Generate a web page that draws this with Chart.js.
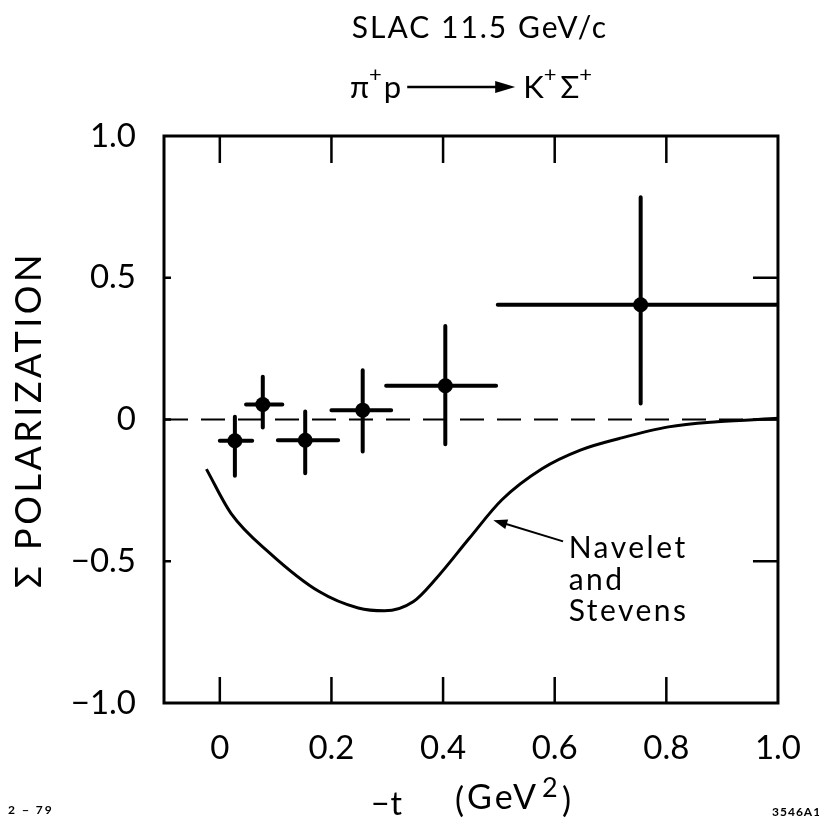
<!DOCTYPE html>
<html>
<head>
<meta charset="utf-8">
<script src="https://cdn.jsdelivr.net/npm/chart.js@4.4.0/dist/chart.umd.min.js"></script>
<style>
  html, body { margin: 0; padding: 0; background: #fff; }
  #wrap { width: 819px; height: 827px; }
</style>
</head>
<body>
<div id="wrap"><canvas id="myChart" width="819" height="827"></canvas></div>
<script>
// data
const tValues  = [0.027, 0.077, 0.153, 0.256, 0.404, 0.754];
const tLow     = [0.000, 0.047, 0.104, 0.200, 0.298, 0.498];
const tHigh    = [0.058, 0.112, 0.212, 0.307, 0.495, 1.000];
const polValues = [-0.075, 0.053, -0.073, 0.033, 0.119, 0.405];
const polLow    = [-0.198, -0.028, -0.190, -0.113, -0.087, 0.056];
const polHigh   = [0.010, 0.151, 0.028, 0.174, 0.330, 0.784];

// Navelet and Stevens prediction
const curveT = [-0.024, 0.02, 0.09, 0.178, 0.248, 0.295, 0.347, 0.388, 0.447, 0.505, 0.578, 0.646, 0.716, 0.804, 0.891, 1.0];
const curveP = [-0.175, -0.331, -0.472, -0.607, -0.665, -0.675, -0.642, -0.56, -0.419, -0.284, -0.173, -0.108, -0.067, -0.026, -0.008, 0.004];

const xTicks = [0, 0.2, 0.4, 0.6, 0.8, 1.0];
const xTickLabels = ['0', '0.2', '0.4', '0.6', '0.8', '1.0'];
const yTicks = [-1, -0.5, 0, 0.5, 1];
const yTickLabels = ['\u22121.0', '\u22120.5', '0', '0.5', '1.0'];

const FONT = "Lato, 'DejaVu Sans', sans-serif";

let hbars = [], vbars = [], points = [];
for (let i = 0; i < tValues.length; i++) {
    hbars.push({x: tLow[i], y: polValues[i]}, {x: tHigh[i], y: polValues[i]}, {x: tHigh[i], y: null});
    vbars.push({x: tValues[i], y: polLow[i]}, {x: tValues[i], y: polHigh[i]}, {x: tValues[i], y: null});
    points.push({x: tValues[i], y: polValues[i]});
}
let curve = curveT.map((t, i) => ({x: t, y: curveP[i]}));

const whiteBg = {
    id: 'whiteBg',
    beforeDraw(chart) {
        const ctx = chart.ctx;
        ctx.save();
        ctx.fillStyle = '#fff';
        ctx.fillRect(0, 0, chart.width, chart.height);
        ctx.restore();
    }
};

const frame = {
    id: 'frame',
    afterDraw(chart) {
        const ctx = chart.ctx;
        const a = chart.chartArea;
        const sx = chart.scales.x, sy = chart.scales.y;
        ctx.save();
        ctx.strokeStyle = '#000';
        ctx.fillStyle = '#000';
        ctx.lineWidth = 3;
        ctx.strokeRect(a.left, a.top, a.right - a.left, a.bottom - a.top);

        // inward ticks
        ctx.lineWidth = 2.5;
        ctx.beginPath();
        xTicks.forEach(v => {
            if (v >= 1) return;
            const px = sx.getPixelForValue(v);
            ctx.moveTo(px, a.top); ctx.lineTo(px, a.top + 27);
            ctx.moveTo(px, a.bottom); ctx.lineTo(px, a.bottom - 26);
        });
        yTicks.forEach(v => {
            if (v <= -1 || v >= 1) return;
            const py = sy.getPixelForValue(v);
            ctx.moveTo(a.left, py); ctx.lineTo(a.left + 7, py);
            ctx.moveTo(a.right, py); ctx.lineTo(a.right - 25, py);
        });
        ctx.stroke();

        // title
        ctx.textBaseline = 'alphabetic';
        ctx.textAlign = 'center';
        ctx.font = '30px ' + FONT;
        ctx.letterSpacing = '2px';
        ctx.fillText('SLAC 11.5 GeV/c', 480, 38);

        // reaction line
        ctx.textAlign = 'left';
        ctx.letterSpacing = '0px';
        const big = '31px ' + FONT, sup = '22px ' + FONT;
        let x = 350;
        const base = 98;
        const put = (txt, font, dy) => {
            ctx.font = font;
            ctx.fillText(txt, x, base + dy);
            x += ctx.measureText(txt).width;
        };
        put('\u03c0', big, 0);
        put('+', sup, -16);
        x += 2;
        put('p', big, 0);
        x += 6;
        const ay = 87;
        ctx.lineWidth = 2.5;
        ctx.beginPath();
        ctx.moveTo(x, ay); ctx.lineTo(x + 92, ay);
        ctx.stroke();
        ctx.beginPath();
        ctx.moveTo(x + 108, ay); ctx.lineTo(x + 88, ay - 6); ctx.lineTo(x + 88, ay + 6);
        ctx.closePath(); ctx.fill();
        x += 116;
        put('K', big, 0);
        put('+', sup, -16);
        x += 4;
        put('\u03a3', big, 0);
        put('+', sup, -16);

        // y axis title
        ctx.save();
        ctx.translate(29, (a.top + a.bottom) / 2);
        ctx.rotate(-Math.PI / 2);
        ctx.textAlign = 'center';
        ctx.textBaseline = 'middle';
        ctx.font = '36px ' + FONT;
        ctx.letterSpacing = '3.5px';
        ctx.fillText('\u03a3 POLARIZATION', 0, 0);
        ctx.restore();

        // x axis title
        ctx.letterSpacing = '1px';
        ctx.font = '32px ' + FONT;
        ctx.fillText('\u2212t', 371, 815);
        ctx.font = '34px ' + FONT;
        ctx.letterSpacing = '0px';
        ctx.fillText('(', 455, 812);
        ctx.letterSpacing = '3px';
        ctx.fillText('GeV', 467, 809);
        ctx.letterSpacing = '0px';
        ctx.font = '27px ' + FONT;
        ctx.fillText('2', 542, 797);
        ctx.font = '34px ' + FONT;
        ctx.fillText(')', 562, 812);

        // corner marks
        ctx.letterSpacing = '2px';
        ctx.font = 'bold 12px ' + FONT;
        ctx.fillText('2 \u2212 79', 8, 814);
        ctx.letterSpacing = '1px';
        ctx.fillText('3546A1', 772, 816);

        // annotation
        ctx.font = '30px ' + FONT;
        ctx.letterSpacing = '2.5px';
        const tx = sx.getPixelForValue(0.625);
        ctx.fillText('Navelet', tx, sy.getPixelForValue(-0.487));
        ctx.fillText('and', tx, sy.getPixelForValue(-0.6));
        ctx.fillText('Stevens', tx, sy.getPixelForValue(-0.712));

        // arrow to the curve
        const x0 = sx.getPixelForValue(0.615), y0 = sy.getPixelForValue(-0.43);
        const x1 = sx.getPixelForValue(0.49), y1 = sy.getPixelForValue(-0.355);
        const ang = Math.atan2(y1 - y0, x1 - x0);
        ctx.lineWidth = 2;
        ctx.beginPath();
        ctx.moveTo(x0, y0); ctx.lineTo(x1 - 10 * Math.cos(ang), y1 - 10 * Math.sin(ang));
        ctx.stroke();
        ctx.beginPath();
        ctx.moveTo(x1, y1);
        ctx.lineTo(x1 - 14 * Math.cos(ang) + 5 * Math.sin(ang), y1 - 14 * Math.sin(ang) - 5 * Math.cos(ang));
        ctx.lineTo(x1 - 14 * Math.cos(ang) - 5 * Math.sin(ang), y1 - 14 * Math.sin(ang) + 5 * Math.cos(ang));
        ctx.closePath(); ctx.fill();
        ctx.restore();
    }
};

const myChart = new Chart(document.getElementById('myChart'), {
    type: 'scatter',
    data: {
        datasets: [
            {
                data: [{x: -0.1, y: 0}, {x: 1.0, y: 0}],
                showLine: true, borderColor: '#000', borderWidth: 2,
                borderDash: [24, 13], pointRadius: 0
            },
            {
                data: curve,
                showLine: true, borderColor: '#000', borderWidth: 3,
                cubicInterpolationMode: 'monotone', pointRadius: 0
            },
            {
                data: hbars,
                showLine: true, spanGaps: false, borderColor: '#000', borderWidth: 4,
                borderCapStyle: 'round', pointRadius: 0
            },
            {
                data: vbars,
                showLine: true, spanGaps: false, borderColor: '#000', borderWidth: 4,
                borderCapStyle: 'round', pointRadius: 0
            },
            {
                data: points,
                pointRadius: 7.5, pointBackgroundColor: '#000', pointBorderWidth: 0
            }
        ]
    },
    options: {
        responsive: false,
        animation: false,
        events: [],
        layout: { padding: { top: 136, right: 27, left: 0, bottom: 0 } },
        plugins: { legend: { display: false }, tooltip: { enabled: false } },
        scales: {
            x: {
                type: 'linear', min: -0.1, max: 1.0,
                afterBuildTicks: s => { s.ticks = xTicks.map(v => ({value: v})); },
                afterFit: s => { s.height = 124; },
                grid: { display: false }, border: { display: false },
                ticks: {
                    autoSkip: false, maxRotation: 0, padding: 18, color: '#000',
                    font: { family: FONT, size: 33 },
                    callback: (v, i) => xTickLabels[i]
                }
            },
            y: {
                type: 'linear', min: -1, max: 1,
                afterBuildTicks: s => { s.ticks = yTicks.map(v => ({value: v})); },
                afterFit: s => { s.width = 164; },
                grid: { display: false }, border: { display: false },
                ticks: {
                    autoSkip: false, padding: 20, color: '#000',
                    font: { family: FONT, size: 33 },
                    callback: (v, i) => yTickLabels[i]
                }
            }
        }
    },
    plugins: [whiteBg, frame]
});
</script>
</body>
</html>
